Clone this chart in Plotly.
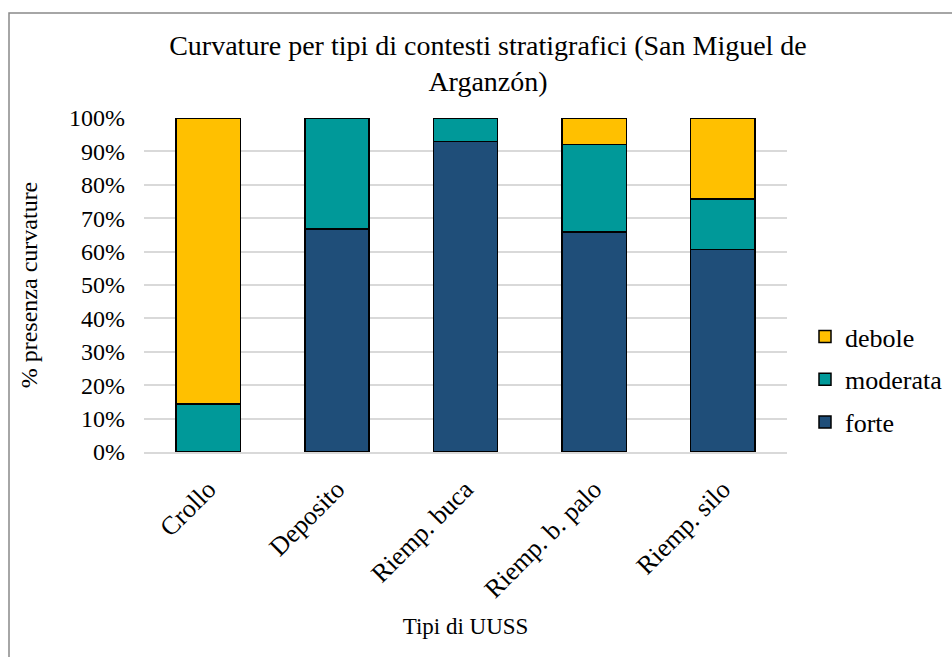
import plotly.graph_objects as go

categories = ["Crollo", "Deposito", "Riemp. buca", "Riemp. b. palo", "Riemp. silo"]
forte = [0.0, 66.7, 92.9, 65.8, 60.6]
moderata = [14.3, 33.3, 7.1, 26.3, 15.2]
debole = [85.7, 0.0, 0.0, 7.9, 24.2]

series = [("forte", forte, "#1F4E79", 3), ("moderata", moderata, "#009999", 2), ("debole", debole, "#FFC000", 1)]

FONT = "Liberation Serif, Times New Roman, serif"

fig = go.Figure()
for name, vals, col, rank in series:
    fig.add_trace(go.Bar(
        x=categories, y=[v / 100 for v in vals], name=name, legendgroup=name,
        legendrank=rank,
        marker=dict(color=col, line=dict(color="black", width=1.5)),
    ))

L, R, T, B = 144, 165, 118, 205
W, H = 952, 657
pw, ph = W - L - R, H - T - B

fig.update_layout(
    width=W, height=H,
    barmode="stack", bargap=0.5,
    paper_bgcolor="white", plot_bgcolor="white",
    margin=dict(l=L, r=R, t=T, b=B, autoexpand=False),
    font=dict(family=FONT, color="#000000"),
    title=dict(
        text="Curvature per tipi di contesti stratigrafici (San Miguel de<br>Arganzón)",
        x=488 / W, xref="container", xanchor="center",
        y=1 - 55 / H, yref="container", yanchor="top",
        font=dict(size=28, family=FONT, color="#000000"),
    ),
    legend=dict(
        traceorder="grouped",
        x=(805 - L) / pw, xanchor="left",
        y=(452 - 313) / ph, yanchor="top",
        font=dict(size=26, family=FONT),
        itemwidth=30,
        tracegroupgap=6,
    ),
    showlegend=True,
)

fig.update_yaxes(
    range=[0, 1], tickformat=".0%", dtick=0.1,
    showgrid=True, gridcolor="#D9D9D9", gridwidth=1.5,
    zeroline=False, showline=False,
    tickfont=dict(size=24, family=FONT),
    ticklabelstandoff=18,
    title=dict(text="% presenza curvature", font=dict(size=24, family=FONT), standoff=24),
)
fig.update_xaxes(
    tickangle=-45,
    tickfont=dict(size=26, family=FONT),
    ticklabelstandoff=10,
    showline=True, linecolor="#D9D9D9", linewidth=1.5,
    title=dict(text="Tipi di UUSS", font=dict(size=23, family=FONT), standoff=15),
)

# outer chart border (partially visible)
fig.add_shape(
    type="rect", xref="paper", yref="paper",
    x0=(9 - L) / pw, x1=(W + 20 - L) / pw,
    y0=(452 - (H + 20)) / ph, y1=(452 - 13) / ph,
    line=dict(color="#898989", width=1.5), fillcolor="rgba(0,0,0,0)", layer="below",
)

fig.write_html("out.html")
